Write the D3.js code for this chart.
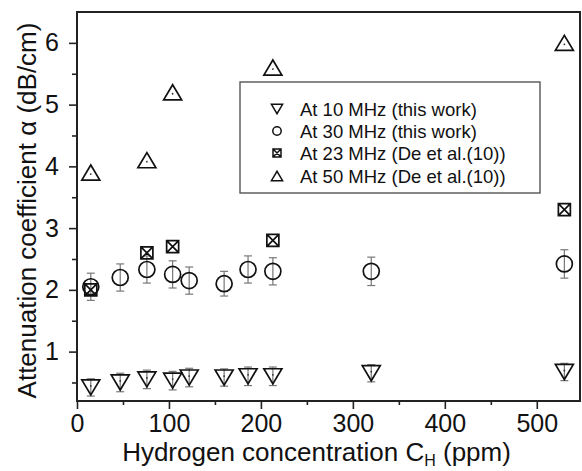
<!DOCTYPE html>
<meta charset="utf-8">
<script src="https://d3js.org/d3.v7.min.js"></script>
<style>
  body { margin: 0; background: #fff; }
  text { font-family: "Liberation Sans", Arial, sans-serif; fill: #111; }
</style>
<div id="chart"></div>
<script>
  // data
  var ppmThisWork = [15, 47, 76, 104, 122, 160, 186, 213, 320, 530];
  var alpha10 = [0.42, 0.50, 0.55, 0.53, 0.58, 0.58, 0.60, 0.60, 0.65, 0.67];
  var err10 = [0.14, 0.15, 0.15, 0.15, 0.15, 0.14, 0.15, 0.15, 0.14, 0.14];
  var alpha30 = [2.05, 2.20, 2.33, 2.25, 2.15, 2.10, 2.33, 2.30, 2.30, 2.42];
  var err30 = [0.22, 0.22, 0.22, 0.22, 0.22, 0.2, 0.22, 0.22, 0.23, 0.23];
  var ppmDe = [15, 76, 104, 213, 530];
  var alpha23 = [2.0, 2.6, 2.7, 2.8, 3.3];
  var alpha50 = [3.9, 4.1, 5.2, 5.6, 6.0];
  var xTicks = [0, 100, 200, 300, 400, 500];
  var yTicks = [1, 2, 3, 4, 5, 6];
  var legendLabels = ["At 10 MHz (this work)", "At 30 MHz (this work)",
    "At 23 MHz (De et al.(10))", "At 50 MHz (De et al.(10))"];

  var margin = { top: 12, right: 2, bottom: 70, left: 77 },
    width = 582 - margin.left - margin.right,
    height = 471 - margin.top - margin.bottom;

  var svg = d3.select("#chart")
    .append("svg")
    .attr("width", 582)
    .attr("height", 471)
    .append("g")
    .attr("transform", "translate(" + margin.left + "," + margin.top + ")");

  var x = d3.scaleLinear().domain([0, 547]).range([0, width]);
  var y = d3.scaleLinear().domain([0.2, 6.5]).range([height, 0]);

  // marker shapes
  function triDown(s) {
    var w = s * 0.62, h = s * 0.52;
    return "M" + (-w) + "," + (-h) + "L" + w + "," + (-h) + "L0," + h + "Z";
  }
  function triUp(s) {
    var w = s * 0.62, h = s * 0.52;
    return "M" + (-w) + "," + h + "L" + w + "," + h + "L0," + (-h) + "Z";
  }
  function boxX(s) {
    var a = s / 2;
    return "M" + (-a) + "," + (-a) + "H" + a + "V" + a + "H" + (-a) + "Z" +
      "M" + (-a) + "," + (-a) + "L" + a + "," + a + "M" + a + "," + (-a) + "L" + (-a) + "," + a;
  }

  // minor ticks
  svg.append("g")
    .attr("transform", "translate(0," + height + ")")
    .call(d3.axisBottom(x).tickValues(d3.range(50, 547, 100)).tickSize(4).tickFormat(""))
    .call(g => g.select(".domain").remove());
  svg.append("g")
    .call(d3.axisLeft(y).tickValues(d3.range(0.5, 6.5, 1)).tickSize(5).tickFormat(""))
    .call(g => g.select(".domain").remove());

  // major axes
  svg.append("g")
    .attr("transform", "translate(0," + height + ")")
    .call(d3.axisBottom(x).tickValues(xTicks).tickSize(8).tickPadding(5).tickFormat(d3.format("d")));
  svg.append("g")
    .call(d3.axisLeft(y).tickValues(yTicks).tickSize(8).tickPadding(10).tickFormat(d3.format("d")));
  svg.selectAll(".tick line").attr("stroke", "#222").attr("stroke-width", 1.6);
  svg.selectAll(".tick text").style("font-size", "25px").attr("fill", "#111");

  // frame
  svg.append("rect")
    .attr("width", width).attr("height", height)
    .attr("fill", "none").attr("stroke", "#222").attr("stroke-width", 2);
  svg.selectAll(".domain").remove();

  // error bars
  function errorBars(ppm, val, err) {
    var g = svg.append("g").attr("stroke", "#777").attr("stroke-width", 1.2);
    ppm.forEach(function (p, i) {
      var cx = x(p);
      g.append("line").attr("x1", cx).attr("x2", cx)
        .attr("y1", y(val[i] - err[i])).attr("y2", y(val[i] + err[i]));
      [val[i] - err[i], val[i] + err[i]].forEach(function (v) {
        g.append("line").attr("x1", cx - 4).attr("x2", cx + 4)
          .attr("y1", y(v)).attr("y2", y(v));
      });
    });
  }
  errorBars(ppmThisWork, alpha10, err10);
  errorBars(ppmThisWork, alpha30, err30);

  function markers(ppm, val, pathFn, size, dot) {
    var g = svg.append("g");
    g.selectAll("path")
      .data(ppm)
      .enter()
      .append("path")
      .attr("transform", function (d, i) { return "translate(" + x(d) + "," + y(val[i]) + ")"; })
      .attr("d", pathFn(size))
      .attr("fill", "none")
      .attr("stroke", "#111")
      .attr("stroke-width", 1.7);
    if (dot) {
      g.selectAll("circle")
        .data(ppm)
        .enter()
        .append("circle")
        .attr("cx", function (d) { return x(d); })
        .attr("cy", function (d, i) { return y(val[i]) + dot; })
        .attr("r", 0.9)
        .attr("fill", "#333");
    }
  }

  markers(ppmThisWork, alpha10, triDown, 14.5, -1.5);
  svg.append("g").selectAll("circle")
    .data(ppmThisWork)
    .enter()
    .append("circle")
    .attr("cx", function (d) { return x(d); })
    .attr("cy", function (d, i) { return y(alpha30[i]); })
    .attr("r", 8)
    .attr("fill", "none")
    .attr("stroke", "#111")
    .attr("stroke-width", 1.7);
  markers(ppmDe, alpha23, boxX, 12, 0);
  markers(ppmDe, alpha50, triUp, 14.5, 1.5);

  // legend
  var lg = svg.append("g").attr("transform", "translate(" + (240 - margin.left) + "," + (82 - margin.top) + ")");
  lg.append("rect").attr("width", 300).attr("height", 111)
    .attr("fill", "#fff").attr("stroke", "#555").attr("stroke-width", 1.4);
  var rows = [27, 49, 71, 94];
  var shapes = [triDown(9), null, boxX(8), triUp(9)];
  legendLabels.forEach(function (t, i) {
    if (shapes[i]) {
      lg.append("path").attr("d", shapes[i])
        .attr("transform", "translate(37," + rows[i] + ")")
        .attr("fill", "none").attr("stroke", "#111").attr("stroke-width", 1.5);
    } else {
      lg.append("circle").attr("cx", 37).attr("cy", rows[i]).attr("r", 4.2)
        .attr("fill", "none").attr("stroke", "#111").attr("stroke-width", 1.5);
    }
    lg.append("text").attr("x", 60).attr("y", rows[i]).attr("dy", "0.36em")
      .style("font-size", "18.5px").text(t);
  });

  // axis titles
  var xt = svg.append("text")
    .attr("x", width / 2 - 12)
    .attr("y", height + 60)
    .attr("text-anchor", "middle")
    .style("font-size", "26px");
  xt.append("tspan").text("Hydrogen concentration C");
  xt.append("tspan").attr("dy", 5).style("font-size", "16px").text("H");
  xt.append("tspan").attr("dy", -5).text(" (ppm)");

  svg.append("text")
    .attr("transform", "translate(" + (-margin.left + 27) + "," + (height / 2 + 4) + ") rotate(-90)")
    .attr("text-anchor", "middle")
    .attr("dy", "0.36em")
    .style("font-size", "26px")
    .text("Attenuation coefficient \u03b1 (dB/cm)");
</script>
